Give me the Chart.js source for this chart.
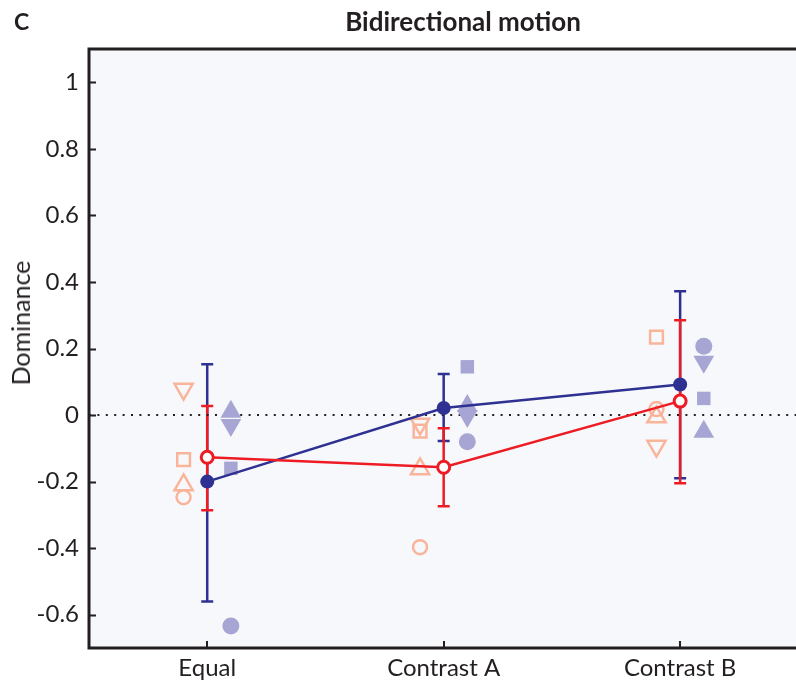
<!DOCTYPE html>
<html>
<head>
<meta charset="utf-8">
<script src="https://cdn.jsdelivr.net/npm/chart.js@4"></script>
<style>
  html, body { margin: 0; padding: 0; background: #fff; overflow: hidden; }
  #wrap { position: relative; width: 796px; height: 682px; overflow: hidden; font-family: Lato, "Open Sans", sans-serif; color: #231f20; }
  #chart { position: absolute; left: 0; top: 0; }
  .lbl { position: absolute; white-space: nowrap; }
  #panel { left: 14px; top: 7px; font-size: 23px; font-weight: bold; }
  #title { left: 263px; width: 400px; top: 5px; text-align: center; font-size: 26px; font-weight: bold; }
  #ytitle { left: 20px; top: 323px; font-size: 25px; transform: translate(-50%, -50%) rotate(-90deg); }
</style>
</head>
<body>
<div id="wrap">
  <canvas id="chart" width="796" height="682"></canvas>
  <div class="lbl" id="panel">C</div>
  <div class="lbl" id="title">Bidirectional motion</div>
  <div class="lbl" id="ytitle">Dominance</div>
</div>
<script>
// categories sit at x = 1, 2, 3
const categories = ['Equal', 'Contrast A', 'Contrast B'];
const yTicks = [-0.6, -0.4, -0.2, 0, 0.2, 0.4, 0.6, 0.8, 1];

// group means with error bar ends
const blueMean = [-0.20, 0.021, 0.092];
const blueLo = [-0.56, -0.078, -0.19];
const blueHi = [0.153, 0.123, 0.372];
const redMean = [-0.127, -0.157, 0.042];
const redLo = [-0.286, -0.274, -0.205];
const redHi = [0.027, -0.04, 0.285];

// individual subjects, red condition (hollow, left of the mean)
const redCircle = [-0.247, -0.397, 0.018];
const redSquare = [-0.134, -0.048, 0.234];
const redTriUp = [-0.21, -0.162, -0.006];
const redTriDown = [0.078, -0.027, -0.093];

// individual subjects, blue condition (filled, right of the mean)
const blueCircle = [-0.634, -0.08, 0.207];
const blueSquare = [-0.16, 0.145, 0.05];
const blueTriUp = [0.01, 0.027, -0.05];
const blueTriDown = [-0.03, -0.003, 0.16];

const NAVY = '#2e3192';
const RED = '#ed1c24';
const SALMON = '#f9b49a';
const LILAC = '#a7a5d3';
const INK = '#231f20';
const FONT = 'Lato, "Open Sans", sans-serif';

const pts = (vals, off) => vals.map((v, i) => ({ x: i + 1 + off, y: v }));

function subject(vals, off, style, rot, filled, r) {
  return {
    data: pts(vals, off),
    showLine: false,
    pointStyle: style,
    rotation: rot,
    pointRadius: r,
    pointHoverRadius: r,
    pointBackgroundColor: filled ? LILAC : 'rgba(0,0,0,0)',
    pointBorderColor: filled ? LILAC : SALMON,
    pointBorderWidth: filled ? 0 : 2.5,
    order: 5
  };
}

const errorBars = {
  id: 'errorBars',
  beforeDraw(chart) {
    const { ctx, chartArea: a } = chart;
    ctx.save();
    ctx.fillStyle = '#f7f8fb';
    ctx.fillRect(a.left, a.top, a.right - a.left, a.bottom - a.top);
    ctx.restore();
  },
  beforeDatasetsDraw(chart) {
    const { ctx, scales: { x, y } } = chart;
    const groups = [[blueLo, blueHi, NAVY], [redLo, redHi, RED]];
    ctx.save();
    ctx.lineWidth = 2.5;
    groups.forEach(([lo, hi, col]) => {
      ctx.strokeStyle = col;
      lo.forEach((v, i) => {
        const px = x.getPixelForValue(i + 1);
        const y0 = y.getPixelForValue(v);
        const y1 = y.getPixelForValue(hi[i]);
        ctx.beginPath();
        ctx.moveTo(px, y0); ctx.lineTo(px, y1);
        ctx.moveTo(px - 6, y0); ctx.lineTo(px + 6, y0);
        ctx.moveTo(px - 6, y1); ctx.lineTo(px + 6, y1);
        ctx.stroke();
      });
    });
    ctx.restore();
  },
  afterDraw(chart) {
    const { ctx, chartArea: a, scales: { x, y } } = chart;
    ctx.save();
    ctx.strokeStyle = INK;
    ctx.lineWidth = 3;
    ctx.beginPath();
    ctx.moveTo(a.left - 1.5, a.top); ctx.lineTo(a.right, a.top);
    ctx.moveTo(a.left, a.top); ctx.lineTo(a.left, a.bottom + 1.5);
    ctx.moveTo(a.left - 1.5, a.bottom); ctx.lineTo(a.right, a.bottom);
    ctx.stroke();
    // inward tick marks
    ctx.lineWidth = 2;
    ctx.beginPath();
    yTicks.forEach(v => {
      const py = Math.round(y.getPixelForValue(v)) + 0.5;
      ctx.moveTo(a.left, py); ctx.lineTo(a.left + 7, py);
    });
    categories.forEach((c, i) => {
      const px = Math.round(x.getPixelForValue(i + 1));
      ctx.moveTo(px, a.bottom); ctx.lineTo(px, a.bottom - 7);
    });
    ctx.stroke();
    ctx.restore();
  }
};

new Chart(document.getElementById('chart'), {
  type: 'scatter',
  data: {
    datasets: [
      {
        data: pts(redMean, 0),
        showLine: true,
        borderColor: RED,
        borderWidth: 2.5,
        pointRadius: 6,
        pointHoverRadius: 6,
        pointBackgroundColor: '#ffffff',
        pointBorderColor: RED,
        pointBorderWidth: 3,
        order: 1
      },
      {
        data: pts(blueMean, 0),
        showLine: true,
        borderColor: NAVY,
        borderWidth: 2.5,
        pointRadius: 7,
        pointHoverRadius: 7,
        pointBackgroundColor: NAVY,
        pointBorderColor: NAVY,
        pointBorderWidth: 0,
        order: 2
      },
      subject(redCircle, -0.1, 'circle', 0, false, 7),
      subject(redSquare, -0.1, 'rect', 0, false, 9),
      subject(redTriUp, -0.1, 'triangle', 0, false, 10.5),
      subject(redTriDown, -0.1, 'triangle', 180, false, 10.5),
      subject(blueCircle, 0.1, 'circle', 0, true, 8.5),
      subject(blueSquare, 0.1, 'rect', 0, true, 9.5),
      subject(blueTriUp, 0.1, 'triangle', 0, true, 12),
      subject(blueTriDown, 0.1, 'triangle', 180, true, 12),
      {
        data: [{ x: 0.5, y: 0 }, { x: 3.49, y: 0 }],
        showLine: true,
        borderColor: INK,
        borderWidth: 2,
        borderDash: [2, 6.4],
        pointRadius: 0,
        order: 9
      }
    ]
  },
  options: {
    responsive: false,
    animation: false,
    layout: { autoPadding: false, padding: { top: 49, right: 0, left: 0, bottom: 0 } },
    plugins: { legend: { display: false }, tooltip: { enabled: false } },
    scales: {
      x: {
        type: 'linear',
        min: 0.5,
        max: 3.49,
        grid: { display: false },
        border: { display: false },
        afterBuildTicks: s => { s.ticks = categories.map((c, i) => ({ value: i + 1 })); },
        afterFit: s => { s.height = 34; s.paddingLeft = 0; s.paddingRight = 0; },
        ticks: {
          padding: -2,
          color: INK,
          font: { family: FONT, size: 24 },
          maxRotation: 0,
          callback: v => categories[Math.round(v) - 1]
        }
      },
      y: {
        min: -0.7,
        max: 1.1,
        grid: { display: false },
        border: { display: false },
        afterBuildTicks: s => { s.ticks = yTicks.map(v => ({ value: v })); },
        afterFit: s => { s.width = 89; s.paddingTop = 0; s.paddingBottom = 0; },
        ticks: {
          padding: 2,
          color: INK,
          font: { family: FONT, size: 24 },
          callback: v => String(Math.round(v * 10) / 10)
        }
      }
    }
  },
  plugins: [errorBars]
});
</script>
</body>
</html>
